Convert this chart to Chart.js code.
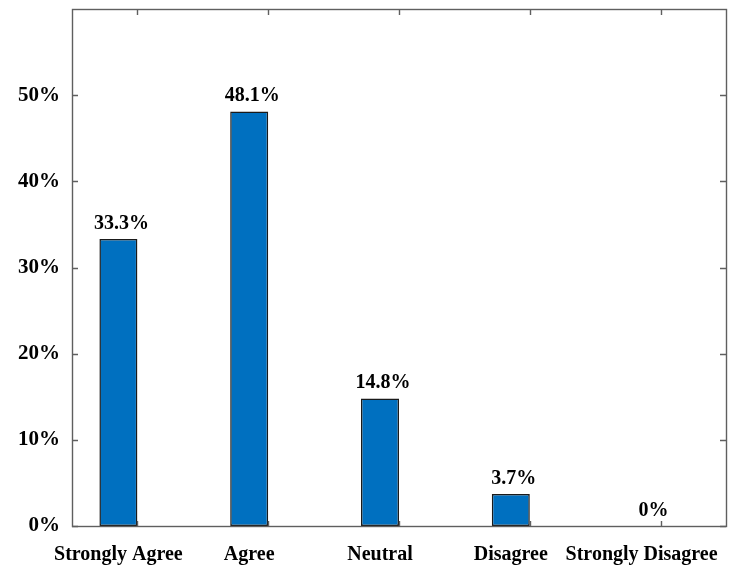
<!DOCTYPE html>
<html>
<head>
<meta charset="utf-8">
<script src="https://cdn.jsdelivr.net/npm/chart.js@4/dist/chart.umd.min.js"></script>
<style>
  html, body { margin: 0; padding: 0; background: #ffffff; }
  #wrap { width: 738px; height: 565px; }
</style>
</head>
<body>
<div id="wrap"><canvas id="c" width="738" height="565"></canvas></div>
<script>
// ---- data ----
const categories = ["Strongly Agree", "Agree", "Neutral", "Disagree", "Strongly Disagree"];
const values = [33.3, 48.1, 14.8, 3.7, 0];
const emptySeries = [null, null, null, null, null];
const yMin = 0;
const yMax = 60;
const yStep = 10;
const yTickValues = [0, 10, 20, 30, 40, 50];

const FONT = "'Liberation Serif', 'Times New Roman', serif";
const AXIS_COLOR = "#5f5f5f";

function pct(v) { return v + "%"; }

function noPad(scale) {
  scale.paddingTop = 0; scale.paddingBottom = 0;
  scale.paddingLeft = 0; scale.paddingRight = 0;
}

const framePlugin = {
  id: "frame",
  afterDatasetsDraw(chart) {
    const { ctx, chartArea: a, scales } = chart;
    const y = scales.y, x = scales.x;
    ctx.save();
    ctx.strokeStyle = AXIS_COLOR;
    ctx.lineWidth = 1.4;
    ctx.beginPath();
    yTickValues.forEach(v => {
      const py = Math.round(y.getPixelForValue(v)) + 0.5;
      ctx.moveTo(a.left, py); ctx.lineTo(a.left + 6, py);
      ctx.moveTo(a.right, py); ctx.lineTo(a.right - 6, py);
    });
    categories.forEach((c, i) => {
      const px = Math.round(x.getPixelForValue(i)) + 0.5;
      ctx.moveTo(px, a.top); ctx.lineTo(px, a.top + 6);
      ctx.moveTo(px, a.bottom); ctx.lineTo(px, a.bottom - 5);
    });
    ctx.stroke();
    ctx.strokeRect(Math.round(a.left) + 0.5, Math.round(a.top) + 0.5,
                   Math.round(a.right - a.left), Math.round(a.bottom - a.top));
    ctx.fillStyle = "#000";
    ctx.font = "bold 20px " + FONT;
    ctx.textAlign = "center";
    ctx.textBaseline = "alphabetic";
    const meta = chart.getDatasetMeta(0);
    meta.data.forEach((bar, i) => {
      const px = bar.x + (values[i] === 0 ? 12 : 3);
      ctx.fillText(pct(values[i]), px, bar.y - 10.5);
    });
    ctx.restore();
  }
};

new Chart(document.getElementById("c"), {
  type: "bar",
  data: {
    labels: categories,
    datasets: [
      {
        label: "Share",
        data: values,
        backgroundColor: "#0070C0",
        borderColor: "#1a1a1a",
        borderWidth: 1.5,
        borderSkipped: false,
        barPercentage: 1.0,
        categoryPercentage: 0.581
      },
      {
        label: "",
        data: emptySeries,
        backgroundColor: "rgba(0,0,0,0)",
        barPercentage: 1.0,
        categoryPercentage: 0.581
      }
    ]
  },
  options: {
    responsive: false,
    animation: false,
    devicePixelRatio: 1,
    layout: { padding: { top: 9, right: 12, left: 0, bottom: 0 } },
    plugins: {
      legend: { display: false },
      tooltip: { enabled: false }
    },
    scales: {
      x: {
        type: "category",
        grid: { display: false },
        border: { display: false },
        ticks: {
          color: "#000",
          font: { family: FONT, size: 20, weight: "bold" },
          padding: 9,
          labelOffset: -19,
          maxRotation: 0,
          autoSkip: false
        },
        afterFit(scale) { scale.height = 39; noPad(scale); }
      },
      y: {
        min: yMin,
        max: yMax,
        grid: { display: false },
        border: { display: false },
        ticks: {
          stepSize: yStep,
          color: "#000",
          font: { family: FONT, size: 21, weight: "bold" },
          padding: 4,
          callback: (v) => (yTickValues.includes(v) ? pct(v) : null)
        },
        afterFit(scale) { scale.width = 72; noPad(scale); }
      }
    }
  },
  plugins: [framePlugin]
});
</script>
</body>
</html>
